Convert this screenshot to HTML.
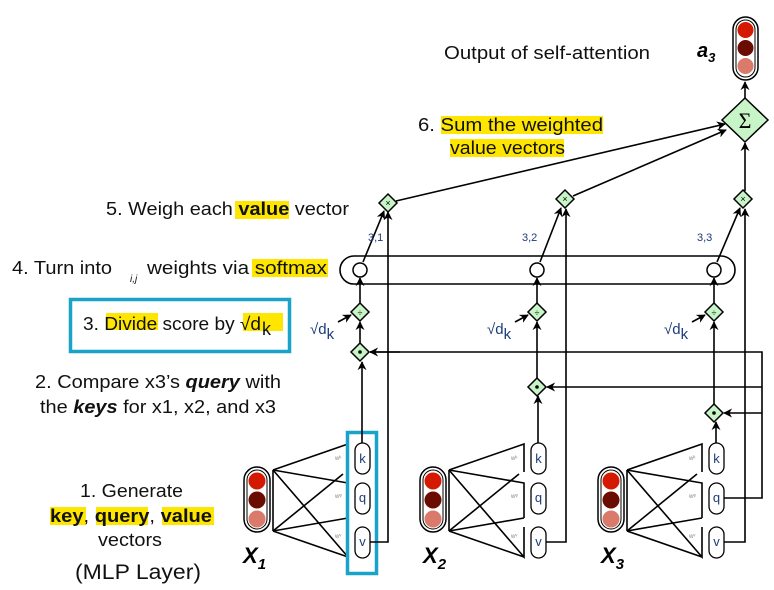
<!DOCTYPE html>
<html><head><meta charset="utf-8"><style>
html,body{margin:0;padding:0;background:#fff;}
svg{display:block;font-family:"Liberation Sans",sans-serif;}
</style></head><body>
<svg width="774" height="590" viewBox="0 0 774 590" xmlns="http://www.w3.org/2000/svg">
<defs>
<marker id="ar" viewBox="0 0 10 10" refX="9" refY="5" markerWidth="9" markerHeight="9" orient="auto" markerUnits="userSpaceOnUse"><path d="M0,0 L10,5 L0,10 L3,5 z" fill="#000"/></marker>
<g id="node">
  <rect x="244" y="467" width="26" height="65" rx="13" fill="#fff" stroke="#000" stroke-width="1.5"/>
  <rect x="247" y="470" width="20" height="59" rx="10" fill="none" stroke="#000" stroke-width="1"/>
  <circle cx="257" cy="481" r="8.5" fill="#d41a00"/>
  <circle cx="257" cy="500" r="8.5" fill="#6b0c00"/>
  <circle cx="257" cy="519" r="8.5" fill="#d97a6a"/>
  <g stroke="#000" stroke-width="1.6" fill="none">
    <path d="M273,470 L273,531"/>
    <path d="M273,470 L348,444 L348,472"/>
    <path d="M273,470 L348,483 L348,518"/>
    <path d="M273,470 L348,557 L348,527"/>
    <path d="M273,531 L343,474"/>
    <path d="M273,531 L348,518"/>
    <path d="M273,531 L348,557"/>
  </g>
  <text x="335" y="460" font-size="6" fill="#888">wᵏ</text>
  <text x="335" y="498" font-size="6" fill="#888">wᵠ</text>
  <text x="335" y="538" font-size="6" fill="#888">wᵛ</text>
  <g fill="#fff" stroke="#000" stroke-width="1.3">
    <rect x="355" y="443" width="15" height="31" rx="7.5"/>
    <rect x="355" y="483" width="15" height="31" rx="7.5"/>
    <rect x="355" y="527" width="15" height="31" rx="7.5"/>
  </g>
  <g font-size="13" fill="#1a3c7a" text-anchor="middle">
    <text x="362.5" y="463">k</text>
    <text x="362.5" y="502">q</text>
    <text x="362.5" y="546">v</text>
  </g>
</g>
</defs>

<g fill="#ffe600">
  <rect x="441" y="116" width="162" height="18"/>
  <rect x="450" y="139" width="114" height="18"/>
  <rect x="235" y="201" width="54" height="18"/>
  <rect x="252" y="259" width="76" height="18"/>
  <rect x="106" y="313" width="52" height="17"/>
  <rect x="243" y="313" width="40" height="18"/>
  <rect x="50" y="507" width="36" height="18"/>
  <rect x="96" y="507" width="52" height="18"/>
  <rect x="162" y="507" width="52" height="18"/>
</g>

<use href="#node"/>
<use href="#node" transform="translate(176,0)"/>
<use href="#node" transform="translate(354,0)"/>

<rect x="347.5" y="432.5" width="29" height="141" fill="none" stroke="#1aa3c8" stroke-width="3.5"/>
<rect x="70.5" y="299.5" width="219" height="52" fill="none" stroke="#1aa3c8" stroke-width="3.5"/>

<g stroke="#000" stroke-width="1.6" fill="none">
  <path d="M370,542 L388,542 L388,212" marker-end="url(#ar)"/>
  <path d="M546,542 L566,542 L566,209" marker-end="url(#ar)"/>
  <path d="M724,542 L745,542 L745,209" marker-end="url(#ar)"/>
  <path d="M362,443 L362,362" marker-end="url(#ar)"/>
  <path d="M538,443 L538,396" marker-end="url(#ar)"/>
  <path d="M716,443 L716,422" marker-end="url(#ar)"/>
  <path d="M724,498 L762,498 L762,352 L370,352" />
  <path d="M400,352 L370,352" marker-end="url(#ar)"/>
  <path d="M762,387 L547,387" marker-end="url(#ar)"/>
  <path d="M762,413 L724,413" marker-end="url(#ar)"/>
  <path d="M360,343 L360,322" marker-end="url(#ar)"/>
  <path d="M537,378 L537,322" marker-end="url(#ar)"/>
  <path d="M714,404 L714,322" marker-end="url(#ar)"/>
  <path d="M360,303 L360,278" marker-end="url(#ar)"/>
  <path d="M537,303 L537,278" marker-end="url(#ar)"/>
  <path d="M714,303 L714,278" marker-end="url(#ar)"/>
  <path d="M363,262 L384,211" marker-end="url(#ar)"/>
  <path d="M540,262 L561,208" marker-end="url(#ar)"/>
  <path d="M717,262 L740,208" marker-end="url(#ar)"/>
  <path d="M396,201 L725,124" marker-end="url(#ar)"/>
  <path d="M573,196 L726,130" marker-end="url(#ar)"/>
  <path d="M745,191 L745,143" marker-end="url(#ar)"/>
  <path d="M745,99 L745,82" marker-end="url(#ar)"/>
  <path d="M338,322 L351,315" marker-end="url(#ar)"/>
  <path d="M515,322 L528,315" marker-end="url(#ar)"/>
  <path d="M692,322 L705,315" marker-end="url(#ar)"/>
</g>

<rect x="340" y="256" width="395" height="28" rx="14" fill="none" stroke="#000" stroke-width="1.6"/>
<g fill="#fff" stroke="#000" stroke-width="1.5">
  <circle cx="360" cy="270" r="7"/>
  <circle cx="537" cy="270" r="7"/>
  <circle cx="714" cy="270" r="7"/>
</g>

<g fill="#c8f5c8" stroke="#000" stroke-width="1.5">
  <path d="M388,194 L397,203 L388,212 L379,203 z"/>
  <path d="M565,190 L574,199 L565,208 L556,199 z"/>
  <path d="M743,190 L752,199 L743,208 L734,199 z"/>
  <path d="M360,303 L369,312 L360,321 L351,312 z"/>
  <path d="M537,303 L546,312 L537,321 L528,312 z"/>
  <path d="M714,303 L723,312 L714,321 L705,312 z"/>
  <path d="M360,343 L369,352 L360,361 L351,352 z"/>
  <path d="M537,378 L546,387 L537,396 L528,387 z"/>
  <path d="M714,404 L723,413 L714,422 L705,413 z"/>
  <path d="M745,98 L768,120 L745,142 L722,120 z"/>
</g>
<g font-size="9" text-anchor="middle" fill="#000">
  <text x="388" y="206">×</text><text x="565" y="202">×</text><text x="743" y="202">×</text>
  <text x="360" y="316">÷</text><text x="537" y="316">÷</text><text x="714" y="316">÷</text>
</g>
<g fill="#000"><circle cx="360" cy="352" r="1.8"/><circle cx="537" cy="387" r="1.8"/><circle cx="714" cy="413" r="1.8"/></g>
<text x="745" y="128" font-size="22" text-anchor="middle" font-family="Liberation Serif,serif">Σ</text>

<rect x="733" y="17" width="25" height="63" rx="12.5" fill="#fff" stroke="#000" stroke-width="1.5"/>
<rect x="736" y="20" width="19" height="57" rx="9.5" fill="none" stroke="#000" stroke-width="1"/>
<circle cx="745.5" cy="30" r="8" fill="#d41a00"/>
<circle cx="745.5" cy="48" r="8" fill="#6b0c00"/>
<circle cx="745.5" cy="66" r="8" fill="#d97a6a"/>

<g font-size="11" fill="#1a3c7a">
  <text x="368" y="241">3,1</text>
  <text x="522" y="241">3,2</text>
  <text x="697" y="241">3,3</text>
</g>
<g font-size="15" fill="#1a3c7a">
  <text x="310" y="334">√d<tspan dy="5">k</tspan></text>
  <text x="487" y="334">√d<tspan dy="5">k</tspan></text>
  <text x="664" y="334">√d<tspan dy="5">k</tspan></text>
</g>

<g font-size="22" font-style="italic" font-weight="bold" fill="#000">
  <text x="243" y="563">X<tspan font-size="15" dy="6">1</tspan></text>
  <text x="423" y="563">X<tspan font-size="15" dy="6">2</tspan></text>
  <text x="601" y="563">X<tspan font-size="15" dy="6">3</tspan></text>
</g>
<text x="697" y="57" font-size="20" font-style="italic" font-weight="bold">a<tspan font-size="13" dy="5">3</tspan></text>

<g font-size="18" fill="#111">
  <text x="444" y="59" textLength="206" lengthAdjust="spacingAndGlyphs">Output of self-attention</text>
  <text x="418" y="131" textLength="185" lengthAdjust="spacingAndGlyphs">6. Sum the weighted</text>
  <text x="450" y="154" textLength="115" lengthAdjust="spacingAndGlyphs">value vectors</text>
  <text x="106" y="215" textLength="243" lengthAdjust="spacingAndGlyphs">5. Weigh each <tspan font-weight="bold">value</tspan> vector</text>
  <text x="12" y="274" textLength="100" lengthAdjust="spacingAndGlyphs">4. Turn into</text>
  <text x="130" y="282" font-size="10" font-style="italic">i,j</text>
  <text x="147" y="274" textLength="180" lengthAdjust="spacingAndGlyphs">weights via softmax</text>
  <text x="83" y="330" textLength="178" lengthAdjust="spacingAndGlyphs">3. Divide score by √d</text>
  <text x="262" y="335">k</text>
  <text x="35" y="388" textLength="246" lengthAdjust="spacingAndGlyphs">2. Compare x3’s <tspan font-weight="bold" font-style="italic">query</tspan> with</text>
  <text x="40" y="413" textLength="236" lengthAdjust="spacingAndGlyphs">the <tspan font-weight="bold" font-style="italic">keys</tspan> for x1, x2, and x3</text>
  <text x="80" y="497" textLength="103" lengthAdjust="spacingAndGlyphs">1. Generate</text>
  <text x="50" y="522" textLength="162" lengthAdjust="spacingAndGlyphs" font-weight="bold">key<tspan font-weight="normal">, </tspan>query<tspan font-weight="normal">, </tspan>value</text>
  <text x="98" y="546" textLength="64" lengthAdjust="spacingAndGlyphs">vectors</text>
  <text x="75" y="579" font-size="21" textLength="126" lengthAdjust="spacingAndGlyphs">(MLP Layer)</text>
</g>
</svg>
</body></html>
